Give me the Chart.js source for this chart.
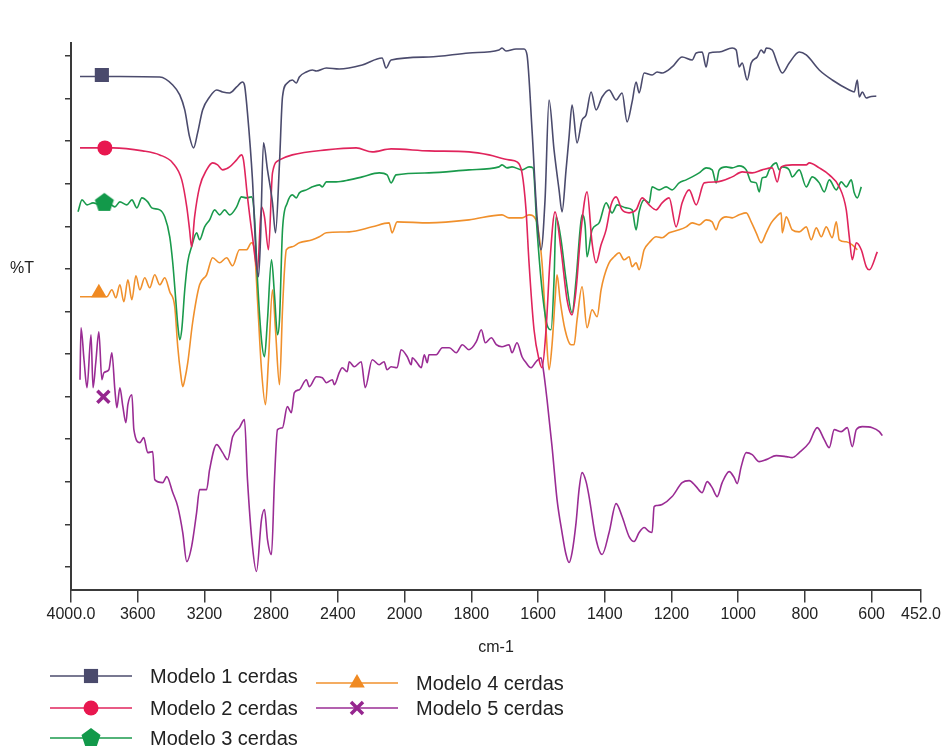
<!DOCTYPE html>
<html>
<head>
<meta charset="utf-8">
<script src="https://cdn.jsdelivr.net/npm/chart.js@4.4.1/dist/chart.umd.min.js"></script>
<style>
	html, body { margin: 0; padding: 0; background: #ffffff; }
	canvas { display: block; }
</style>
</head>
<body>
<canvas id="chart" width="952" height="749"></canvas>
<script>
// FTIR spectra, [wavenumber cm-1, %T (arbitrary offset units)]
const SERIES_NAMES = ['Modelo 1 cerdas', 'Modelo 2 cerdas', 'Modelo 3 cerdas', 'Modelo 4 cerdas', 'Modelo 5 cerdas'];

const MODELO_1 = [
	[3946,102.7],[3707,102.7],[3468,102.6],[3390,101],[3348,99],[3318,96],[3289,90.6],[3265,88.4],[3241,91.4],[3211,96],
	[3169,98.6],[3127,100],[3091,99.6],[3049,99.4],[3007,100.6],[2972,101.6],[2960,101],[2942,95.4],[2912,82],[2888,65.4],
	[2876,62.6],[2864,70],[2846,89.4],[2822,84],[2792,77.4],[2774,71.4],[2750,85.4],[2732,98.6],[2703,101.4],[2673,102],
	[2649,101.4],[2631,102.6],[2589,103.6],[2553,104],[2529,103.8],[2469,104.4],[2392,104.2],[2254,105],[2135,106.4],[2111,104.4],
	[2081,106],[1927,106.6],[1807,107.4],[1717,108],[1708,108.4],[1696,107.8],[1666,108.2],[1642,108.2],[1633,107],[1618,92],
	[1603,74.6],[1591,68],[1579,78],[1567,98],[1552,88],[1537,80],[1528,75.6],[1516,84],[1507,90.6],[1498,97],
	[1483,89.4],[1468,94],[1456,95],[1441,99.6],[1426,96],[1408,98.6],[1387,100],[1366,98],[1348,99.4],[1333,93.6],
	[1318,97.6],[1306,101.6],[1297,99.4],[1282,103.4],[1258,103],[1243,103.6],[1228,103.4],[1198,104.6],[1168,106.6],[1138,106],
	[1126,107.4],[1108,107.6],[1096,104.6],[1087,107.4],[1057,107.6],[1018,108.4],[1006,108],[997,104.6],[988,105.4],[973,102],
	[961,105.4],[943,106.6],[931,108],[922,107.4],[916,108.4],[898,108],[883,105.4],[868,103.4],[847,105.4],[817,107.6],
	[796,107],[757,104],[718,102],[667,100],[652,99.6],[643,102],[637,98.6],[628,99.6],[616,98.4],[607,98.6],[586,98.8]
];

const MODELO_2 = [
	[3946,88.4],[3749,88.4],[3570,87.8],[3468,87],[3390,85.4],[3336,82],[3306,76.6],[3289,72],[3277,68.6],[3259,74.6],
	[3229,80.6],[3187,84],[3151,85.4],[3121,85],[3091,84],[3049,84.6],[3007,86],[2978,87],[2966,86],[2942,78.6],
	[2912,70.6],[2882,64],[2858,76.6],[2840,74.6],[2816,68],[2792,83.4],[2750,86],[2673,87],[2469,88],[2290,88.4],
	[2194,87.6],[2081,88.2],[1927,87.8],[1807,87.6],[1747,87],[1687,86],[1663,85.6],[1648,83.4],[1636,76],[1627,65.4],
	[1612,52],[1597,46],[1588,44.4],[1576,52],[1564,66],[1549,75.6],[1531,68],[1513,58],[1498,55],[1486,60],
	[1471,72],[1453,79.6],[1438,69.4],[1426,65.4],[1411,69],[1396,72],[1381,77],[1366,78.6],[1348,76],[1327,75.4],
	[1306,76],[1288,78.4],[1267,77],[1246,76],[1228,77.4],[1207,78.4],[1186,72.6],[1168,77.4],[1147,80],[1126,77],
	[1102,81.4],[1066,81.6],[1018,82.6],[988,83.6],[958,83.4],[928,84],[898,84.4],[883,81.6],[871,84.6],[838,85],
	[796,85],[787,85.4],[757,84.4],[727,83],[697,80.6],[676,76],[667,70.6],[658,66],[646,69.4],[631,68],
	[616,64.6],[607,64],[583,67.6]
];

const MODELO_3 = [
	[3958,75.6],[3934,78],[3904,77],[3868,77.4],[3827,77],[3797,77.6],[3767,77.2],[3737,76.6],[3707,77.6],[3665,77],
	[3635,78],[3605,76.4],[3575,78.4],[3540,77.6],[3516,76.4],[3468,76],[3438,74.6],[3408,70.6],[3390,65.4],[3372,58],
	[3360,53],[3348,50],[3336,52],[3318,60],[3300,65.6],[3277,68.6],[3247,71.4],[3229,70],[3199,72.6],[3169,74],
	[3139,76],[3109,75],[3079,76],[3049,75],[3007,76.6],[2978,78.6],[2948,78.4],[2918,78.6],[2900,74.6],[2882,62],
	[2858,50],[2840,46.6],[2822,54],[2798,66],[2780,59],[2762,51],[2750,54],[2732,72],[2703,77.4],[2673,79],
	[2649,78.4],[2631,79.4],[2589,80],[2553,80.6],[2511,81],[2493,80.6],[2469,81.6],[2410,81.6],[2332,82],[2254,82.6],
	[2152,83.4],[2105,83],[2081,81.4],[2051,83],[1927,83.4],[1807,84],[1717,84.6],[1708,85],[1693,84.4],[1678,84.6],
	[1648,84],[1627,84.6],[1615,84.4],[1603,72],[1588,60],[1573,53],[1561,52],[1552,62],[1546,74.6],[1531,70],
	[1516,62],[1498,55.4],[1486,62],[1474,72],[1468,75],[1459,73],[1453,66.6],[1438,72],[1417,73.4],[1396,77.4],
	[1378,75.4],[1363,77],[1336,76.4],[1318,76],[1306,72],[1297,75.6],[1282,78],[1267,77.4],[1258,80.6],[1237,80],
	[1216,80.6],[1198,80],[1177,81.4],[1156,82],[1138,82.6],[1117,83.4],[1096,84.4],[1078,84],[1066,81.4],[1057,84],
	[1036,84.6],[1018,84.4],[997,84.8],[976,84],[961,81.6],[946,81.4],[937,79.6],[928,82.4],[916,82.6],[907,84],
	[886,85.4],[877,84],[868,84.6],[847,84],[838,82.6],[817,84],[796,80.6],[778,82.6],[757,81.4],[742,79.6],
	[727,82],[706,80],[691,81.6],[676,80.6],[661,82],[652,79.4],[643,78.4],[631,80.6]
];

const MODELO_4 = [
	[3946,58.6],[3857,58.6],[3785,58.6],[3755,60],[3731,58.4],[3707,61],[3683,57.6],[3659,62],[3635,58],[3611,62.8],
	[3587,60],[3558,62.4],[3528,60.4],[3498,63],[3468,61],[3438,62.4],[3408,59.6],[3378,56.6],[3360,48.6],[3342,43],
	[3330,40.6],[3318,42],[3300,45.4],[3271,53.4],[3229,61],[3187,63],[3151,66.4],[3109,65.4],[3067,66.4],[3031,64.8],
	[2990,68],[2948,68],[2918,69.4],[2900,68],[2882,58],[2858,44],[2834,37],[2816,46],[2792,60],[2774,52],
	[2750,41],[2732,56],[2720,64],[2709,68],[2673,68.6],[2631,69.4],[2553,70],[2511,70.6],[2469,71.4],[2332,71.6],
	[2194,72.6],[2093,73.4],[2075,71.4],[2045,73.6],[1927,73.4],[1807,74],[1708,75],[1687,74.4],[1648,74.4],[1627,75],
	[1606,74],[1597,71],[1588,65.4],[1576,52],[1567,44],[1558,49],[1549,58],[1543,63],[1534,58],[1519,52],
	[1501,49],[1492,49],[1483,54],[1468,60.6],[1453,52.4],[1438,56],[1423,54.6],[1411,60],[1402,62.6],[1387,65.4],
	[1372,66.6],[1357,67.4],[1342,66],[1327,66.6],[1318,64.6],[1306,65.4],[1297,64],[1282,68],[1267,69.4],[1246,70.6],
	[1228,70.4],[1207,71.4],[1177,72],[1156,72.6],[1138,73.4],[1117,73],[1096,74],[1078,73.6],[1066,72],[1057,73.6],
	[1036,74.6],[1018,74.4],[997,75],[976,75.4],[961,73.6],[946,71.4],[931,69.4],[916,71.4],[901,73.4],[886,74.6],
	[871,75.4],[868,71.4],[856,74.6],[838,72],[817,71.6],[796,72.6],[781,70],[766,72.4],[751,70.6],[736,72.6],
	[718,70.4],[706,73.6],[697,70],[676,69.6],[658,69],[643,68]
];

const MODELO_5 = [
	[3946,42],[3940,52.4],[3922,46],[3904,40.4],[3880,51],[3868,40.4],[3851,45.6],[3833,51.6],[3815,42],[3803,43.4],
	[3773,44],[3755,47.4],[3737,40],[3725,36.4],[3707,40.4],[3689,36.6],[3671,33.4],[3659,37],[3635,39],[3623,32],
	[3587,29.4],[3564,30.4],[3540,27.4],[3510,27.6],[3498,22],[3450,21.4],[3426,22.6],[3390,19.4],[3360,16.6],[3330,11.4],
	[3306,5.6],[3277,8.6],[3247,15.4],[3229,20],[3187,20],[3169,24],[3127,29],[3091,27.4],[3061,26],[3031,30.6],
	[2990,32.4],[2960,34],[2942,22],[2912,8.6],[2888,3.6],[2858,14],[2840,16],[2822,10],[2798,7],[2780,22],
	[2762,32],[2732,32.4],[2703,36.6],[2679,35.4],[2661,39.4],[2631,40],[2589,42],[2571,40.6],[2529,42.6],[2493,42.4],
	[2469,41.4],[2433,42],[2421,41],[2392,43.4],[2374,44.4],[2344,43.6],[2332,45.6],[2302,44.6],[2260,45.6],[2236,40.4],
	[2194,46],[2152,45],[2123,45.6],[2105,44],[2081,44.6],[2045,44.4],[2021,48],[1992,46.6],[1980,45],[1977,46.4],
	[1965,45.6],[1950,44.4],[1941,47],[1932,45.4],[1927,47],[1905,47],[1887,48.4],[1866,48.4],[1845,47.4],[1827,49],
	[1807,48],[1785,49.6],[1770,52],[1758,49.4],[1740,50.4],[1725,49],[1708,48.6],[1687,49],[1678,47.4],[1663,49.4],
	[1648,46.6],[1636,45.4],[1621,44.4],[1606,45.6],[1591,46.4],[1585,44.4],[1573,38],[1558,28.6],[1543,18],[1528,11.4],
	[1516,7],[1507,5.4],[1498,7.4],[1486,13.4],[1477,20],[1468,23.4],[1456,21.6],[1447,18.6],[1426,10],[1408,7],
	[1387,11.4],[1366,17.2],[1348,14.6],[1327,10.6],[1312,9.6],[1297,11.4],[1282,12.4],[1267,11.6],[1258,11.4],[1252,16.6],
	[1246,16.8],[1228,17],[1198,18.6],[1168,21.4],[1147,21.8],[1126,20.6],[1108,19.4],[1093,21.6],[1078,20.4],[1063,18.6],
	[1048,21.4],[1027,23.6],[1012,22.4],[1003,21.2],[991,24.6],[976,27.4],[958,27],[937,25.6],[916,26],[886,26.8],
	[856,26.6],[838,26.4],[817,27.4],[787,29.4],[763,32.4],[742,30],[727,28.4],[712,32],[691,31.6],[673,32.4],
	[658,28.6],[646,32],[628,32.6],[598,32.4],[577,31.6],[568,30.8]
];

// one marker symbol on each trace near the left edge
const MARKER_WN = [3815, 3797, 3800, 3833, 3806];
const MARKER_T  = [103, 88.4, 77.4, 59.4, 38.6];

const X_TICKS = [4000, 3600, 3200, 2800, 2400, 2000, 1800, 1600, 1400, 1200, 1000, 800, 600, 452];
const X_TICK_LABELS = ['4000.0', '3600', '3200', '2800', '2400', '2000', '1800', '1600', '1400', '1200', '1000', '800', '600', '452.0'];
const Y_TICKS = [4.54, 13.06, 21.58, 30.1, 38.62, 47.14, 55.66, 64.18, 72.7, 81.22, 89.74, 98.26, 106.78];
const Y_TITLE_TICK = 7;

// instrument axis: scale halves above 2000 cm-1
const BREAK_WN = 2000;
function compress_wn(wn) { return wn > BREAK_WN ? BREAK_WN + (wn - BREAK_WN) / 2 : wn; }

class WavenumberScale extends Chart.LinearScale {
	parse(raw, index) {
		const v = super.parse(raw, index);
		return v === null ? null : compress_wn(v);
	}
}
WavenumberScale.id = 'wavenumber';
WavenumberScale.defaults = Chart.LinearScale.defaults;
Chart.register(WavenumberScale);

const AXIS_COLOR = '#3a3a3a';
const TEXT_COLOR = '#222222';
const FONT = "'Liberation Sans', Arial, sans-serif";

function make_pentagon(color, r)
{
	const c = document.createElement('canvas');
	c.width = c.height = Math.ceil(r * 2 + 2);
	const g = c.getContext('2d');
	g.fillStyle = color;
	g.beginPath();
	for(let k = 0; k < 5; ++k) {
		const a = -Math.PI / 2 + k * 2 * Math.PI / 5;
		const px = c.width / 2 + r * Math.cos(a), py = c.height / 2 + r * Math.sin(a);
		if(k === 0) g.moveTo(px, py); else g.lineTo(px, py);
	}
	g.closePath();
	g.fill();
	return c;
}

const styles = [
	{ line: '#4b4b6d', mark: '#4a4a6c', style: 'rect',     radius: 10, border: 0 },
	{ line: '#e0245c', mark: '#e8174f', style: 'circle',   radius: 7.5, border: 0 },
	{ line: '#1a9a4c', mark: '#12994a', style: make_pentagon('#12994a', 10), radius: 10, border: 0 },
	{ line: '#f0902c', mark: '#f08a22', style: 'triangle', radius: 9, border: 0 },
	{ line: '#9a2c94', mark: '#96268f', style: 'crossRot', radius: 8.5, border: 3.5 }
];

const seriesData = [MODELO_1, MODELO_2, MODELO_3, MODELO_4, MODELO_5];

const lineSets = seriesData.map((d, i) => ({
	label: SERIES_NAMES[i],
	data: d,
	borderColor: styles[i].line,
	borderWidth: 1.6,
	pointRadius: 0,
	cubicInterpolationMode: 'monotone',
	order: 1
}));

const markerSets = seriesData.map((d, i) => ({
	label: SERIES_NAMES[i] + ' marker',
	data: [[MARKER_WN[i], MARKER_T[i]]],
	showLine: false,
	pointStyle: styles[i].style,
	pointRadius: styles[i].radius,
	pointBackgroundColor: styles[i].mark,
	pointBorderColor: styles[i].mark,
	pointBorderWidth: styles[i].border,
	order: 0
}));

// legend slots: two columns, drawn below the axis
const LEGEND_SLOTS = [
	{ x: 50,  y: 676 },
	{ x: 50,  y: 708 },
	{ x: 50,  y: 738 },
	{ x: 316, y: 683 },
	{ x: 316, y: 708 }
];

const legendPlugin = {
	id: 'cerdasLegend',
	afterDraw(chart) {
		const ctx = chart.ctx;
		ctx.save();
		for(let i = 0; i < SERIES_NAMES.length; ++i) {
			const slot = LEGEND_SLOTS[i];
			const st = styles[i];
			ctx.strokeStyle = st.line;
			ctx.lineWidth = 1.6;
			ctx.beginPath();
			ctx.moveTo(slot.x, slot.y);
			ctx.lineTo(slot.x + 82, slot.y);
			ctx.stroke();

			ctx.fillStyle = st.mark;
			ctx.strokeStyle = st.mark;
			ctx.lineWidth = st.border;
			Chart.helpers.drawPoint(ctx, {
				pointStyle: st.style,
				radius: st.radius,
				rotation: 0,
				borderWidth: st.border
			}, slot.x + 41, slot.y);

			ctx.fillStyle = TEXT_COLOR;
			ctx.font = '20px ' + FONT;
			ctx.textBaseline = 'middle';
			ctx.textAlign = 'left';
			ctx.fillText(SERIES_NAMES[i], slot.x + 100, slot.y + 1);
		}
		ctx.restore();
	}
};

Chart.defaults.font.family = FONT;
Chart.defaults.color = TEXT_COLOR;

const chart = new Chart(document.getElementById('chart'), {
	type: 'line',
	data: {
		datasets: markerSets.concat(lineSets)
	},
	options: {
		responsive: false,
		animation: false,
		layout: {
			padding: { left: 10, right: 31, top: 43, bottom: 91.4 }
		},
		plugins: {
			legend: { display: false },
			tooltip: { enabled: false }
		},
		scales: {
			x: {
				type: 'wavenumber',
				reverse: true,
				// bounds are given on the compressed axis
				min: compress_wn(452),
				max: compress_wn(4000),
				afterBuildTicks: function(scale) {
					scale.ticks = X_TICKS.map(v => ({ value: compress_wn(v) }));
				},
				afterFit: function(scale) { scale.height = 68.1; },
				ticks: {
					autoSkip: false,
					maxRotation: 0,
					padding: 2,
					font: { size: 16 },
					callback: function(value, index) { return X_TICK_LABELS[index]; }
				},
				grid: {
					drawOnChartArea: false,
					drawTicks: true,
					tickLength: 13,
					color: AXIS_COLOR,
					lineWidth: 1.5
				},
				border: { display: true, color: AXIS_COLOR, width: 2 },
				title: {
					display: true,
					text: 'cm-1',
					font: { size: 16 },
					padding: 0
				}
			},
			y: {
				min: 0,
				max: 109.4,
				afterBuildTicks: function(scale) {
					scale.ticks = Y_TICKS.map(v => ({ value: v }));
				},
				afterFit: function(scale) { scale.width = 61; },
				ticks: {
					autoSkip: false,
					crossAlign: 'far',
					font: { size: 16 },
					callback: function(value, index) { return index === Y_TITLE_TICK ? '%T' : ''; }
				},
				grid: {
					drawOnChartArea: false,
					drawTicks: true,
					tickLength: 6,
					color: AXIS_COLOR,
					lineWidth: 1.5
				},
				border: { display: true, color: AXIS_COLOR, width: 2 }
			}
		}
	},
	plugins: [legendPlugin]
});
</script>
</body>
</html>
